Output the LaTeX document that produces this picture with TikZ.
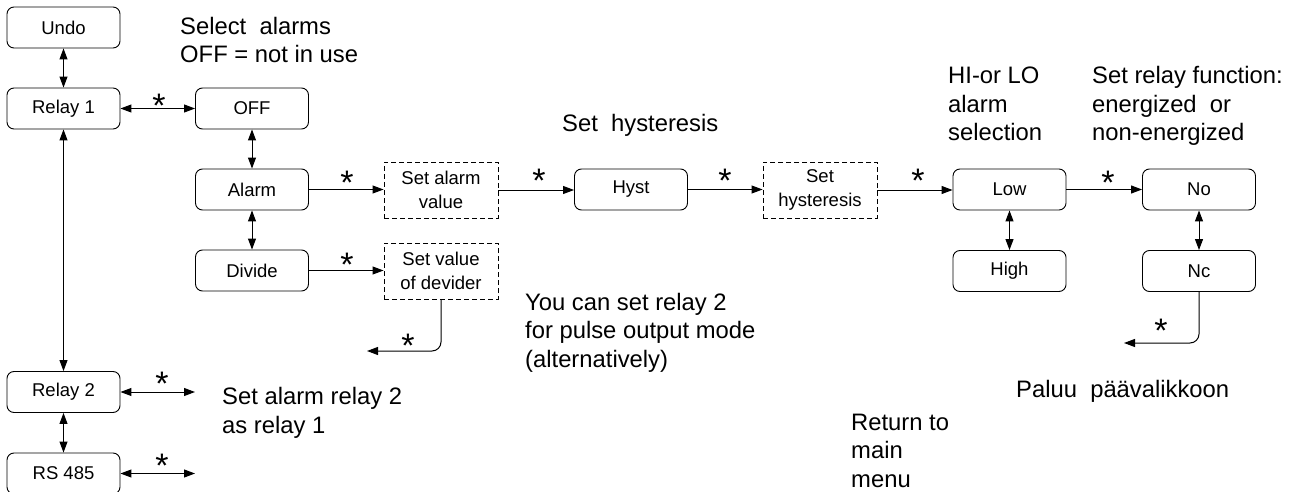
\documentclass[tikz,border=0pt]{standalone}
\usepackage{fontspec}
\setmainfont{Liberation Sans}
\usetikzlibrary{arrows.meta}
\newcommand\boxfont{\fontsize{18.5}{24}\selectfont}
\newcommand\notefont{\fontsize{23.8}{28.5}\selectfont}
\newcommand\starfont{\fontsize{34}{34}\selectfont}
\begin{document}
\begin{tikzpicture}[x=1pt,y=-1pt,
  box/.style={draw, rounded corners=7pt, minimum width=113pt, minimum height=41pt, inner sep=0pt, font=\boxfont, line width=0.9pt},
  dbox/.style={draw, dash pattern=on 5pt off 3pt, minimum width=114pt, minimum height=56pt, inner sep=0pt, align=center, font=\boxfont, line width=0.9pt},
  arr/.style={-{Triangle[length=11pt,width=8pt]}, line width=1pt},
  darr/.style={{Triangle[length=11pt,width=8pt]}-{Triangle[length=11pt,width=8pt]}, line width=1pt},
  star/.style={font=\starfont, anchor=base, inner sep=0pt},
  note/.style={font=\notefont, align=left, anchor=base west, inner sep=0pt}]
\useasboundingbox (0,0) rectangle (1296,492);
% boxes
\node[box] (undo)   at (63.5,27.5)  {Undo};
\node[box] (relay1) at (63.5,108.5) {Relay 1};
\node[box] (off)    at (252,108.5)  {OFF};
\node[box] (alarm)  at (252,189.5)  {Alarm};
\node[box] (divide) at (252,270.5)  {Divide};
\node[dbox] (sav)   at (441,190)    {Set alarm\\value};
\node[dbox] (svd)   at (441,271)    {Set value\\of devider};
\node[box] (hyst)   at (631,189.5)  {Hyst};
\node[dbox] (shy)   at (820,190)    {Set\\hysteresis};
\node[box] (low)    at (1009.5,189.5) {Low};
\node[box] (high)   at (1009.5,271) {High};
\node[box] (no)     at (1199,189.5) {No};
\node[box] (nc)     at (1199,271)   {Nc};
\node[box] (relay2) at (63.5,392)   {Relay 2};
\node[box] (rs)     at (63.5,473.5) {RS 485};
% free ends
\coordinate (r2end) at (195,392);
\coordinate (rsend) at (195,473.5);
\coordinate (devend) at (367,351);
\coordinate (ncend) at (1124,343);
% connectors
\draw[darr] (undo) -- (relay1);
\draw[darr] (relay1) -- (off);
\draw[darr] (off) -- (alarm);
\draw[arr] (alarm.east) -- (alarm.east -| sav.west);
\draw[darr] (alarm) -- (divide);
\draw[arr] (divide.east) -- (divide.east -| svd.west);
\draw[arr, rounded corners=9pt] (svd.south) |- (devend);
\draw[arr] (sav.east) -- (sav.east -| hyst.west);
\draw[arr] (hyst.east) -- (hyst.east -| shy.west);
\draw[arr] (shy.east) -- (shy.east -| low.west);
\draw[darr] (low) -- (high);
\draw[arr] (low) -- (no);
\draw[darr] (no) -- (nc);
\draw[arr, rounded corners=9pt] (nc.south) |- (ncend);
\draw[darr] (relay1) -- (relay2);
\draw[darr] (relay2.east) -- (r2end);
\draw[darr] (relay2) -- (rs);
\draw[darr] (rs.east) -- (rsend);
% stars
\node[star] (s1) at (159,118) {*};
\node[star] (s2) at (347,194.5) {*};
\node[star] (s3) at (347,276.5) {*};
\node[star] (s4) at (408,357.5) {*};
\node[star] (s5) at (539,192.5) {*};
\node[star] (s6) at (725,192.5) {*};
\node[star] (s7) at (918,192.5) {*};
\node[star] (s8) at (1108,194.5) {*};
\node[star] (s9) at (1161,342.5) {*};
\node[star] (s10) at (162,395.5) {*};
\node[star] (s11) at (162,477.5) {*};
% notes (anchor = baseline of last line)
\node[note] (n1) at (180,63) {Select~~alarms\\OFF = not in use};
\node[note] (n2) at (562,132) {Set~~hysteresis};
\node[note] (n3) at (525,367) {You can set relay 2\\for pulse output mode\\(alternatively)};
\node[note] (n4) at (948,141) {HI-or LO\\alarm\\selection};
\node[note] (n5) at (1092,141) {Set relay function:\\energized~~or\\non-energized};
\node[note] (n6) at (1016,397) {Paluu~~päävalikkoon};
\node[note] (n7) at (851,487) {Return to\\main\\menu};
\node[note] (n8) at (222,433) {Set alarm relay 2\\as relay 1};
\end{tikzpicture}
\end{document}
